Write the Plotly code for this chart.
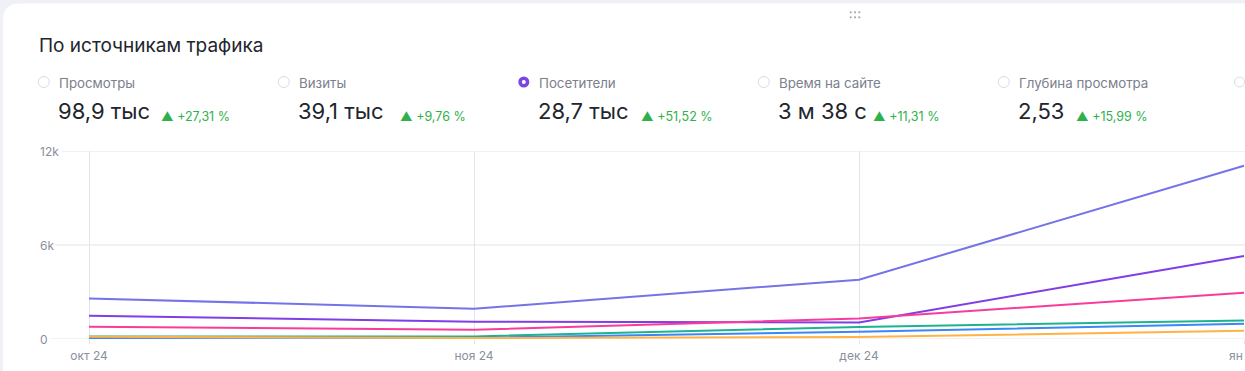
import plotly.graph_objects as go

# ---------------- data ----------------
months = ["окт 24", "ноя 24", "дек 24", "янв 25"]
month_tick_text = ["окт 24", "ноя 24", "дек 24", ""]
last_month_visible = "ян"  # the last label is cut by the card edge in the original

series_names = [
    "Переходы из поисковых систем",
    "Прямые заходы",
    "Переходы по рекламе",
    "Переходы по ссылкам на сайтах",
    "Внутренние переходы",
    "Переходы из социальных сетей",
]
series_values = [
    [2590, 1935, 3785, 11060],
    [1487, 1104, 1060, 5297],
    [785, 594, 1315, 2955],
    [166, 166, 766, 1187],
    [64, 83, 466, 977],
    [150, 64, 128, 530],
]
series_colors = ["#7474e8", "#7f3ee6", "#f83c9c", "#1db391", "#3b87f5", "#ffb347"]

y_ticks = [0, 6000, 12000]
y_tick_labels = ["0", "6k", "12k"]

metric_labels = ["Просмотры", "Визиты", "Посетители", "Время на сайте", "Глубина просмотра"]
metric_values = ["98,9 тыс", "39,1 тыс", "28,7 тыс", "3 м 38 с", "2,53"]
metric_changes = ["▲ +27,31 %", "▲ +9,76 %", "▲ +51,52 %", "▲ +11,31 %", "▲ +15,99 %"]
selected_metric = 2

title_text = "По источникам трафика"

# ---------------- layout geometry ----------------
W, H = 1245, 371
L, R, T, B = 50, 0, 151, 32
PW, PH = W - L - R, H - T - B
FONT = "Inter, Roboto, 'Noto Sans', sans-serif"
AXIS_COLOR = "#8a8f9b"


def px(x):
    return (x - L) / PW


def py(y):
    return (H - B - y) / PH


fig = go.Figure()

for name, vals, col in zip(series_names, series_values, series_colors):
    fig.add_trace(go.Scatter(
        x=months, y=vals, mode="lines", name=name,
        line=dict(color=col, width=2), showlegend=False,
    ))

shapes = []
annotations = []

# background strips / rounded card corner
gray = "#f0f1f6"
shapes.append(dict(type="rect", xref="paper", yref="paper", x0=px(0), x1=px(W), y0=py(3.5), y1=py(0),
                   fillcolor=gray, line=dict(width=0), layer="below"))
shapes.append(dict(type="rect", xref="paper", yref="paper", x0=px(0), x1=px(3), y0=py(H), y1=py(0),
                   fillcolor=gray, line=dict(width=0), layer="below"))
r = 17
path = (f"M {px(3)},{py(3.5 + r)} Q {px(3)},{py(3.5)} {px(3 + r)},{py(3.5)} "
        f"L {px(3 + r)},{py(0)} L {px(0)},{py(0)} L {px(0)},{py(3.5 + r)} Z")
shapes.append(dict(type="path", xref="paper", yref="paper", path=path,
                   fillcolor=gray, line=dict(width=0), layer="below"))

# drag handle dots
for dx in (850.7, 855, 859.3):
    for dy in (12.3, 17.3):
        shapes.append(dict(type="circle", xref="paper", yref="paper",
                           x0=px(dx - 1.1), x1=px(dx + 1.1), y0=py(dy + 1.1), y1=py(dy - 1.1),
                           fillcolor="#a3a8b4", line=dict(width=0)))

# horizontal gridlines (start just after the labels)
grid_starts = {0: 50, 6000: 55, 12000: 62}
for v in y_ticks:
    shapes.append(dict(type="line", xref="paper", yref="y", x0=px(grid_starts[v]), x1=1, y0=v, y1=v,
                       line=dict(color="#e3e5ea", width=1), layer="below"))

# y tick labels (left aligned)
for v, lab in zip(y_ticks, y_tick_labels):
    annotations.append(dict(xref="paper", yref="y", x=px(38), y=v, text=lab, showarrow=False,
                            xanchor="left", yanchor="middle",
                            font=dict(family=FONT, size=12, color=AXIS_COLOR)))

# last month label, cut by the card edge
annotations.append(dict(xref="paper", yref="paper", x=px(1244.5), y=py(355), text=last_month_visible,
                        showarrow=False, xanchor="right", yanchor="middle",
                        font=dict(family=FONT, size=12, color=AXIS_COLOR)))

# title
annotations.append(dict(xref="paper", yref="paper", x=px(37), y=py(45.5), text=title_text,
                        showarrow=False, xanchor="left", yanchor="middle",
                        font=dict(family=FONT, size=19, color="#22252d")))

# metrics row
col_x = [58 + 240 * i for i in range(5)]
change_x = [160, 399, 640, 872, 1075]
for i, (lab, val, ch) in enumerate(zip(metric_labels, metric_values, metric_changes)):
    cx = col_x[i] - 14.2
    cy = 82
    rr = 5.5
    if i == selected_metric:
        shapes.append(dict(type="circle", xref="paper", yref="paper",
                           x0=px(cx - rr), x1=px(cx + rr), y0=py(cy + rr), y1=py(cy - rr),
                           fillcolor="#7a45e6", line=dict(width=0)))
        shapes.append(dict(type="circle", xref="paper", yref="paper",
                           x0=px(cx - 2), x1=px(cx + 2), y0=py(cy + 2), y1=py(cy - 2),
                           fillcolor="white", line=dict(width=0)))
    else:
        shapes.append(dict(type="circle", xref="paper", yref="paper",
                           x0=px(cx - rr), x1=px(cx + rr), y0=py(cy + rr), y1=py(cy - rr),
                           fillcolor="white", line=dict(color="#d9dce3", width=1)))
    annotations.append(dict(xref="paper", yref="paper", x=px(col_x[i] - 1), y=py(83), text=lab,
                            showarrow=False, xanchor="left", yanchor="middle",
                            font=dict(family=FONT, size=13.3, color="#7b808d")))
    annotations.append(dict(xref="paper", yref="paper", x=px(col_x[i] - 2), y=py(110.5), text=val,
                            showarrow=False, xanchor="left", yanchor="middle",
                            font=dict(family=FONT, size=22, color="#22252d")))
    annotations.append(dict(xref="paper", yref="paper", x=px(change_x[i] - 1), y=py(116), text=ch,
                            showarrow=False, xanchor="left", yanchor="middle",
                            font=dict(family=FONT, size=12.5, color="#2eb14a")))

# last (cut-off) radio, kept inside the page
cx, cy, rr = 1239.5, 82, 5.0
shapes.append(dict(type="circle", xref="paper", yref="paper",
                   x0=px(cx - rr), x1=px(cx + rr), y0=py(cy + rr), y1=py(cy - rr),
                   fillcolor="white", line=dict(color="#d9dce3", width=1)))

x0_unit = -(89 - L) / 385
x1_unit = 3 + (W - R - 1244) / 385

fig.update_layout(
    width=W, height=H, autosize=False,
    margin=dict(l=L, r=R, t=T, b=B, pad=0),
    paper_bgcolor="white", plot_bgcolor="white",
    shapes=shapes, annotations=annotations,
    showlegend=False,
    xaxis=dict(
        type="category", range=[x0_unit, x1_unit],
        tickmode="array", tickvals=months, ticktext=month_tick_text,
        showgrid=True, gridcolor="#e3e5ea", gridwidth=1,
        zeroline=False, showline=False,
        ticks="outside", ticklen=4, tickcolor="#e3e5ea",
        ticklabelstandoff=2,
        tickfont=dict(family=FONT, size=12, color=AXIS_COLOR),
        fixedrange=True,
    ),
    yaxis=dict(
        range=[0, 12000], showgrid=False, zeroline=False, showline=False,
        showticklabels=False, ticks="", fixedrange=True,
    ),
    font=dict(family=FONT),
)

post = (
    "document.documentElement.style.overflow='hidden';"
    "document.body.style.margin='0';"
    "document.body.style.overflow='hidden';"
)

fig.write_html(
    "out.html",
    config={"responsive": False, "displayModeBar": False},
    post_script=post,
)
